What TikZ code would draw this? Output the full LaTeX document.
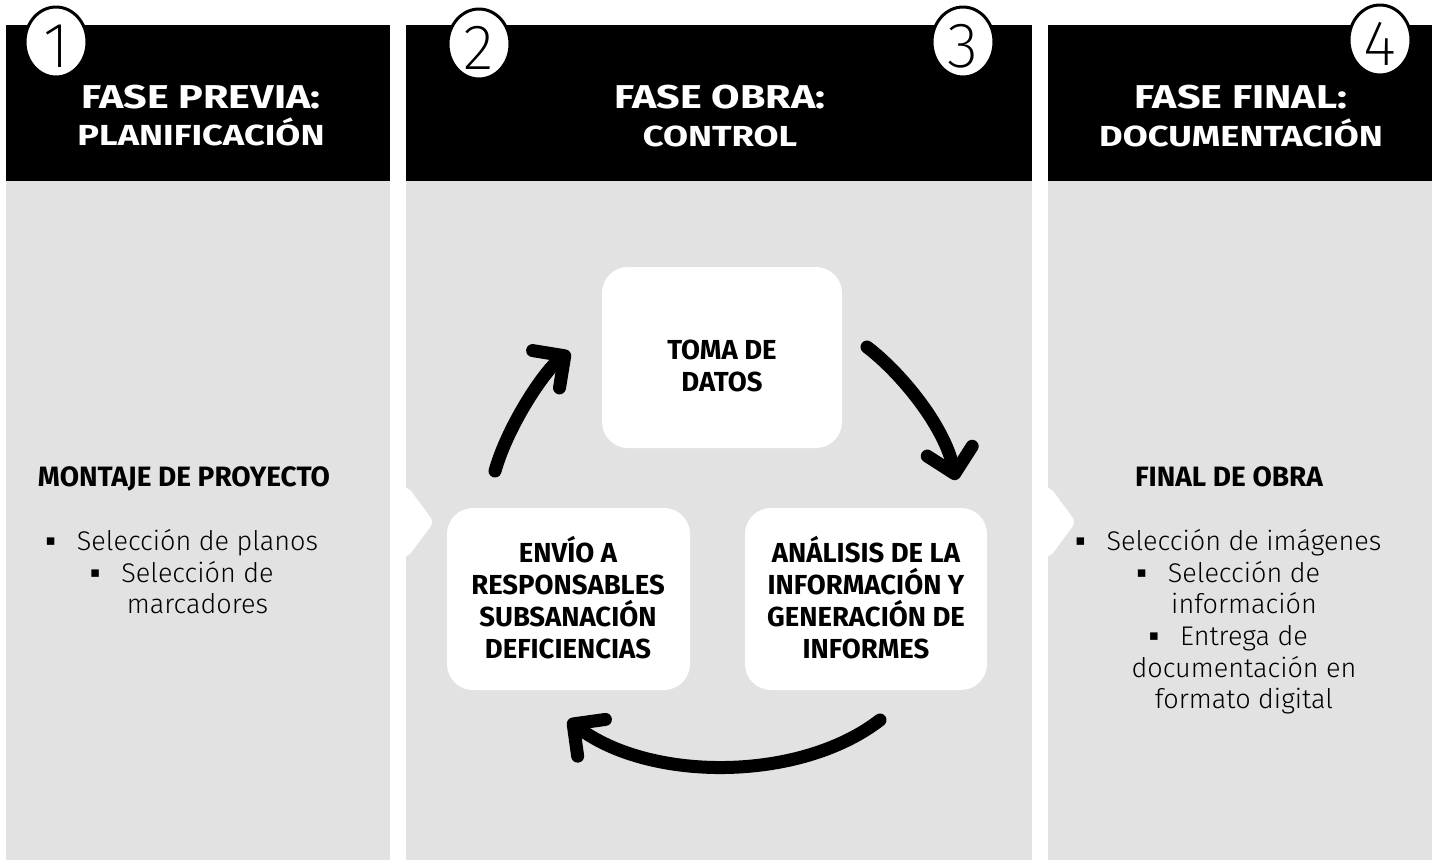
\documentclass[tikz,border=0pt]{standalone}
\usepackage{fontspec}
\setmainfont{Fira Sans}
\newfontfamily\lightfont{Fira Sans Light}
\newfontfamily\thinfont{Fira Sans ExtraLight}
\newfontfamily\hdrfont[FakeStretch=1.25]{Fira Sans}
\newfontfamily\dejavu{DejaVu Sans}
\usetikzlibrary{arrows.meta,shapes.geometric}
\definecolor{panel}{RGB}{226,226,226}
\tikzset{
  hdrA/.style={text=white, font=\hdrfont\bfseries\fontsize{33}{38}\selectfont, anchor=base, inner sep=0pt},
  hdrB/.style={text=white, font=\hdrfont\bfseries\fontsize{29}{34}\selectfont, anchor=base, inner sep=0pt},
  ttl/.style={font=\bfseries\fontsize{28}{32}\selectfont, anchor=base, inner sep=0pt},
  txt/.style={font=\lightfont\fontsize{27}{31.5}\selectfont, anchor=base, inner sep=0pt},
  bul/.style={font=\dejavu\fontsize{15}{15}\selectfont, inner sep=0pt},
  card/.style={fill=white, rounded corners=26pt, inner sep=0pt},
  boxtxt/.style={font=\bfseries\fontsize{27.5}{32}\selectfont, align=center, inner sep=0pt},
  numring/.style={ellipse, draw=black, line width=3pt, fill=white, minimum width=62pt, minimum height=70pt, inner sep=0pt},
  numtxt/.style={font=\thinfont\fontsize{64}{64}\selectfont, inner sep=0pt},
  flow/.style={line width=13pt, line cap=round, -{Straight Barb[length=23pt, width=46pt, round]}}
}
\begin{document}
\begin{tikzpicture}[x=1pt,y=-1pt]
\useasboundingbox (0,0) rectangle (1438,860);
\fill[white] (0,0) rectangle (1438,860);
% panels
\fill[panel] (6,181) rectangle (390,860);
\fill[panel] (406,181) rectangle (1032,860);
\fill[panel] (1048,181) rectangle (1432,860);
\fill[black] (6,25) rectangle (390,181);
\fill[black] (406,25) rectangle (1032,181);
\fill[black] (1048,25) rectangle (1432,181);
% notches
\fill[white, rounded corners=6pt] (396,487) -- (408,487) -- (434,522) -- (408,557) -- (396,557) -- cycle;
\fill[white, rounded corners=6pt] (1038,487) -- (1050,487) -- (1076,522) -- (1050,557) -- (1038,557) -- cycle;
% number rings
\node[numring] (r1) at (56,42) {};
\node[numtxt] (n1) at (56,46) {1};
\node[numring] (r2) at (479,44) {};
\node[numtxt] (n2) at (479,48) {2};
\node[numring] (r3) at (963,42) {};
\node[numtxt] (n3) at (963,46) {3};
\node[numring] (r4) at (1380,40) {};
\node[numtxt] (n4) at (1380,44) {4};
% headers
\node[hdrA] (h1a) at (201,108) {FASE PREVIA:};
\node[hdrB] (h1b) at (201,145) {PLANIFICACIÓN};
\node[hdrA] (h2a) at (720,108) {FASE OBRA:};
\node[hdrB] (h2b) at (720,146) {CONTROL};
\node[hdrA] (h3a) at (1241,108) {FASE FINAL:};
\node[hdrB] (h3b) at (1241,146) {DOCUMENTACIÓN};
% column 1
\node[ttl] (c1t) at (184,486) {MONTAJE DE PROYECTO};
\node[txt] (c1a) at (197.5,550) {Selección de planos};
\node[txt] (c1b) at (197.5,582) {Selección de};
\node[txt] (c1c) at (197.5,613) {marcadores};
\node[bul] (c1ab) at ([xshift=-26pt,yshift=8pt]c1a.base west) {▪};
\node[bul] (c1bb) at ([xshift=-26pt,yshift=8pt]c1b.base west) {▪};
% column 3
\node[ttl] (c3t) at (1229,486) {FINAL DE OBRA};
\node[txt] (c3a) at (1244,550) {Selección de imágenes};
\node[txt] (c3b) at (1244,582) {Selección de};
\node[txt] (c3c) at (1244,613) {información};
\node[txt] (c3d) at (1244,645) {Entrega de};
\node[txt] (c3e) at (1244,677) {documentación en};
\node[txt] (c3f) at (1244,708) {formato digital};
\node[bul] (c3ab) at ([xshift=-26pt,yshift=8pt]c3a.base west) {▪};
\node[bul] (c3bb) at ([xshift=-26pt,yshift=8pt]c3b.base west) {▪};
\node[bul] (c3db) at ([xshift=-26pt,yshift=8pt]c3d.base west) {▪};
% cycle cards
\node[card, minimum width=240pt, minimum height=181pt] (toma) at (722,357.5) {};
\node[card, minimum width=243pt, minimum height=182pt] (envio) at (568.5,599) {};
\node[card, minimum width=242pt, minimum height=182pt] (anal) at (866,599) {};
\node[boxtxt] (tomaT) at (722,366) {TOMA DE\\DATOS};
\node[boxtxt] (envioT) at (568,598) {ENVÍO A\\RESPONSABLES\\SUBSANACIÓN\\DEFICIENCIAS};
\node[boxtxt] (analT) at (866,598) {ANÁLISIS DE LA\\INFORMACIÓN Y\\GENERACIÓN DE\\INFORMES};
% arrows
\coordinate (a1s) at (495,471);
\coordinate (a1e) at (570,352);
\coordinate (a2s) at (867,347);
\coordinate (a2e) at (956,480);
\coordinate (a3s) at (880,720);
\coordinate (a3e) at (568,720);
\draw[flow] (a1s) .. controls (508,425) and (545,370) .. (a1e);
\draw[flow] (a2s) .. controls (900,372) and (944,425) .. (a2e);
\draw[flow] (a3s) .. controls (800,782) and (650,782) .. (a3e);
\end{tikzpicture}
\end{document}
